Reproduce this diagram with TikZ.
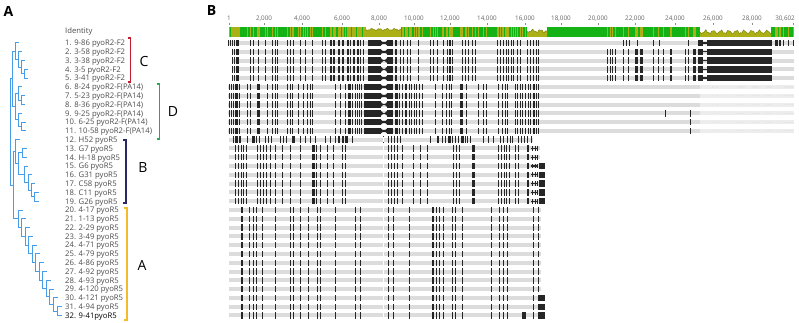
\documentclass[tikz,border=0pt]{standalone}
\usepackage{fontspec}
\setmainfont{Open Sans}
\definecolor{treeblue}{RGB}{70,158,235}
\definecolor{cred}{RGB}{190,30,45}
\definecolor{dgreen}{RGB}{40,170,80}
\definecolor{bnavy}{RGB}{40,40,100}
\definecolor{ayellow}{RGB}{245,185,45}
\definecolor{idgreen}{RGB}{20,178,20}
\definecolor{idolive}{RGB}{172,176,22}
\definecolor{idline}{RGB}{130,135,10}
\definecolor{rowgray}{RGB}{220,220,220}
\definecolor{lightrow}{RGB}{237,237,237}
\definecolor{labgray}{RGB}{75,75,75}
\def\Cmarks{232/1.2,234.2/1.2,236.2/2.4,250/1,253/1,258/1.2,265/1,272/1.2,274.5/1.2,276.5/1.5,287/1,290/1,293/1,300/1.2,305/1,312/1,322/1.2,325/1,330/1.5,333/1.5,338/1.5,342/2.2,347/2.2,350/1,353/1.5,357/2.2,360/1,363/1.2,395/1.5,400/1,403/1,407/1,410/1,418/1,430/1,433/1,437/1,443/1.2,447/1,449/1.5,451.5/1.2,462/1,465/1,468/1,472/1,475/1.2,497/1,500/1,503/1,505.5/1,508/1,510.5/1.2,513/1,517/1,520/1,527/1,529.5/1.5,532.5/1.5,535.5/1,538/1}
\def\CRtwo{607/1,609.5/1,612/1,615/1,623/1,628/1,635/2.8,640/2.8,653/1,658/1,663/1,670/1.5,685/1,688/1,693/2.5}
\def\CRone{623/1,626/1,629/1,637/1.2,653/1,659/1,688/1,775/2.6,779/2.2,783/1,788/1,793/1}
\def\Dmarks{229/1,231/1.2,233/1.2,235/2.5,238.5/1,247/1,250/1,257/3,267/1,272/1.2,274.5/1,276.5/1.5,287/1,289.5/1,292/1,298/1,303/1,307/1,309.5/1,312/1,335/1,340/1.2,345/1,348/3,352/1,354.5/1,356.5/1.2,359/1,361/1.2,363.5/1.2,365/2.5,395/2.5,399/1,402/1,405/2,408.5/1,411/1,413.5/1,416/1,419/1,422/1,435/1,442/1,446/1.2,448.5/1,451/1,460/2.5,466/1,478/1,483/1,485.5/1,498/1,502/1,505/1,507/1,515/1,517/1,519.5/1,522/1.2,525/1,527.5/1,530/1,533/1.5,536/1,538/1}
\def\Bfirst{233/1,235/2.5,238.5/2.5,247/1,252/2.5,256/1,258.5/1,265/1,268/1,271/1,280/1,283/1,286/1,292/2.5,300/1,305/1,310/1,315/1,325/1,330/1,335/1,337.5/2.5,341.5/2.5,345/2.5,352/1,383/1,388/1,391/1,394/1,397/1,400/1,430/1,437/2,442/1,445/1,448/2.5,452/1,455/1,458/1,461/2.5,464.5/1,467/1,470/1,483/1,488/1,493/1,500/1,503/1,507/1,509.5/1,512/1,518/1,521/1,524/1,527/1,531/1}
\def\Bmarks{235/1,238/1,240.5/1,243/1,245.5/1,257/1,260/1,263/1,265.5/1,270/1,275/1,282/1,290/1,300/1,312/2.5,315.5/1,320/1,327/1,333/1,342/1,345/1,388/1,391/1,394/1,397/1,402/1,413/1,420/1,427/1,453/1,456/1,459/1,472/2.5,498/1,501/1,503.5/1,506/1,509/1,515/1,518/1,527/1.5}
\def\Amarks{241/2,249/1,253/1,256/1,261.5/1,275/1.4,290/1,292.7/1,300/1,308/1,317/1,320/1,335/1,355/1,360/1,388/1,393/1,409/1,432/2,435.7/1.2,439/1,442.5/1,451.5/1,455/1,461.5/1,490.5/1,499/1,502.5/1,507/1,533/1,538/1}
\newcommand\arrowblk[1]{%
  \fill[mk] (368,#1-3.2) rectangle (381,#1+3.2);
  \fill[mk] (381,#1-0.8) rectangle (387,#1+0.8);
  \fill[mk] (381,#1-2.4) -- (383.5,#1) -- (381,#1+2.4) -- cycle;
  \fill[mk] (387,#1-2.4) -- (384.5,#1) -- (387,#1+2.4) -- cycle;
  \fill[mk] (387,#1-3.2) rectangle (393,#1+3.2);}
\newcommand\wavyzone[4]{%
  \fill[white] (#1,26.5) rectangle (#2,37);
  \fill[idolive] (#1,37) -- plot[domain=#1:#2,samples=50] (\x,{#3+#4*sin((\x-#1)*47)+0.5*#4*sin((\x-#1)*113)}) -- (#2,37) -- cycle;
  \draw[idline,line width=0.5pt] plot[domain=#1:#2,samples=50] (\x,{#3+#4*sin((\x-#1)*47)+0.5*#4*sin((\x-#1)*113)});}
\begin{document}
\begin{tikzpicture}[x=1pt,y=-1pt,
  lab/.style={font=\fontsize{7.7}{8}\selectfont,text=labgray,anchor=base west,inner sep=0pt},
  grp/.style={font=\fontsize{14}{15}\selectfont,anchor=center,inner sep=0pt},
  panel/.style={font=\bfseries\fontsize{14}{16}\selectfont,anchor=north west,inner sep=0pt},
  tlab/.style={font=\fontsize{6.3}{7}\selectfont,text=black!60,anchor=base,inner sep=0pt},
  tree/.style={draw=treeblue,line width=1pt},
  brk/.style={line width=1.3pt},
  mk/.style={fill=black!85},
  gbar/.style={fill=rowgray}]
\path[use as bounding box] (0,0) rectangle (799,323);
% panel letters
\node[panel] (pA) at (3.3,6.7) {A};
\node[panel] (pB) at (206.7,5) {B};
% header
\node[lab] (hdr) at (65,33.5) {Identity};
% labels
\foreach \i/\t in {1/{9-86 pyoR2-F2},2/{3-58 pyoR2-F2},3/{3-38 pyoR2-F2},4/{3-5 pyoR2-F2},5/{3-41 pyoR2-F2},6/{8-24 pyoR2-F(PA14)},7/{5-23 pyoR2-F(PA14)},8/{8-36 pyoR2-F(PA14)},9/{9-25 pyoR2-F(PA14)},10/{6-25 pyoR2-F(PA14)},11/{10-58 pyoR2-F(PA14)},12/{H52 pyoR5},13/{G7 pyoR5},14/{H-18 pyoR5},15/{G6 pyoR5},16/{G31 pyoR5},17/{C58 pyoR5},18/{C11 pyoR5},19/{G26 pyoR5},20/{4-17 pyoR5},21/{1-13 pyoR5},22/{2-29 pyoR5},23/{3-49 pyoR5},24/{4-71 pyoR5},25/{4-79 pyoR5},26/{4-86 pyoR5},27/{4-92 pyoR5},28/{4-93 pyoR5},29/{4-120 pyoR5},30/{4-121 pyoR5},31/{4-94 pyoR5}}
  {\pgfmathsetmacro\yy{43+(\i-1)*8.79+2.8}
   \node[lab] (n\i) at (65,\yy) {\i. \t};}
\node[lab,text=black] (n32) at (65,318.3) {32. 9-41pyoR5};
% brackets and group letters
\draw[cred,brk] (127.5,38) -- (130.5,38) -- (130.5,82) -- (127.5,82);
\draw[dgreen,brk] (156.5,84) -- (159.5,84) -- (159.5,139) -- (156.5,139);
\draw[bnavy,brk] (123,140) -- (126,140) -- (126,203) -- (123,203);
\draw[ayellow,brk] (124,208) -- (127,208) -- (127,320) -- (124,320);
\node[grp] (gC) at (144,62) {C};
\node[grp] (gD) at (173,112) {D};
\node[grp] (gB) at (143,168) {B};
\node[grp] (gA) at (142,265) {A};
% tree coordinates
\coordinate (R) at (10.5,132.1);
\coordinate (CD) at (12.5,78.98);
\coordinate (BA) at (13,185.22);
\coordinate (c1) at (15,51.24);
\coordinate (c2) at (18,59.48);
\coordinate (c3) at (21,67.17);
\coordinate (c4) at (24,73.77);
\coordinate (d) at (15,106.73);
\coordinate (d1) at (18,93.54);
\coordinate (d11) at (21,100.14);
\coordinate (d2) at (18,119.91);
\coordinate (d21) at (21.5,126.5);
\coordinate (b) at (15.5,151.64);
\coordinate (b1) at (18.5,163.59);
\coordinate (b2) at (22,152.88);
\coordinate (b3) at (24,174.3);
\coordinate (b4) at (28,182.54);
\coordinate (b5) at (31.5,190.23);
\coordinate (b6) at (34,196.83);
\foreach \k/\ax/\ay in {1/18/218.8,2/21.55/227.59,3/25.1/236.37,4/28.65/245.15,5/32.2/253.93,6/35.75/262.68,7/39.3/271.4,8/42.85/280.06,9/46.4/288.57,10/49.95/296.81,11/53.5/304.5,12/57.05/311.1}
  {\coordinate (a\k) at (\ax,\ay);}
\foreach \i/\lx in {1/19,2/22,3/25,4/28,5/28,6/22,7/25,8/25,9/22,10/25.5,11/25.5,12/19.5,13/27,14/27,15/28,16/32,17/35,18/38.5,19/38.5,20/22.5,21/26.05,22/29.6,23/33.15,24/36.7,25/40.25,26/43.8,27/47.35,28/50.9,29/54.45,30/58,31/61.5,32/61.5}
  {\pgfmathsetmacro\yy{43+(\i-1)*8.79}
   \coordinate (t\i) at (\lx,\yy);}
% tree edges
\foreach \p/\q in {R/CD,R/BA,CD/c1,CD/d,c1/t1,c1/c2,c2/t2,c2/c3,c3/t3,c3/c4,c4/t4,c4/t5,d/d1,d/d2,d1/t6,d1/d11,d11/t7,d11/t8,d2/t9,d2/d21,d21/t10,d21/t11,BA/b,BA/a1,b/t12,b/b1,b1/b2,b1/b3,b2/t13,b2/t14,b3/t15,b3/b4,b4/t16,b4/b5,b5/t17,b5/b6,b6/t18,b6/t19,a1/t20,a1/a2,a2/t21,a2/a3,a3/t22,a3/a4,a4/t23,a4/a5,a5/t24,a5/a6,a6/t25,a6/a7,a7/t26,a7/a8,a8/t27,a8/a9,a9/t28,a9/a10,a10/t29,a10/a11,a11/t30,a11/a12,a12/t31,a12/t32}
  {\draw[tree] (\p) |- (\q);}
% ruler
\foreach \tx/\tt in {229/1,264/{2,000},302/{4,000},342/{6,000},379/{8,000},414/{10,000},450/{12,000},487/{14,000},525/{16,000},561/{18,000},598/{20,000},635/{22,000},675/{24,000},713/{26,000},752/{28,000}}
  {\node[tlab] (r\tx) at (\tx,21) {\tt};
   \draw[black!45,line width=0.5pt] (\tx,22.8) -- (\tx,25);}
\node[tlab,anchor=base east] (rend) at (795,21) {30,602};
\draw[black!45,line width=0.5pt] (793.5,22.8) -- (793.5,25);
% identity bar
\fill[idgreen] (229,27) rectangle (794,37);
\foreach \a/\w in \Cmarks {\fill[idolive] (\a,27) rectangle ++(\w,10);}
\foreach \a/\w in \Dmarks {\fill[idolive] (\a,27) rectangle ++(\w,10);}
\foreach \a/\w in \CRtwo {\fill[idolive] (\a,27) rectangle ++(\w,10);}
\foreach \a/\w in {775/2.6,779/2.2,783/1,788/1,793/1} {\fill[idolive] (\a,27) rectangle ++(\w,10);}
\wavyzone{366}{401}{29.5}{0.8}
\wavyzone{527}{547}{31}{1.2}
\wavyzone{700}{771}{32}{1.6}
% group C rows
\foreach \r in {1,...,5}{
  \pgfmathsetmacro\yy{43+(\r-1)*8.79}
  \ifnum\r=1 \def\xs{228}\else\def\xs{232}\fi
  \fill[gbar] (\xs,\yy-2) rectangle (794,\yy+2);
  \foreach \a/\w in \Cmarks {\fill[mk] (\a,\yy-3.2) rectangle ++(\w,6.4);}
  \arrowblk{\yy}
  \fill[mk] (698,\yy-3.2) rectangle (703,\yy+3.2);
  \fill[mk] (703,\yy-0.7) rectangle (707,\yy+0.7);
  \fill[mk] (707,\yy-3.2) rectangle (772,\yy+3.2);
  \ifnum\r=1
    \foreach \a/\w in \CRone {\fill[mk] (\a,\yy-3.2) rectangle ++(\w,6.4);}
    \fill[mk] (228,\yy-3.2) rectangle ++(1.2,6.4);
    \fill[mk] (230,\yy-3.2) rectangle ++(1.2,6.4);
  \else
    \foreach \a/\w in \CRtwo {\fill[mk] (\a,\yy-3.2) rectangle ++(\w,6.4);}
  \fi
}
% group D rows
\foreach \r in {6,...,11}{
  \pgfmathsetmacro\yy{43+(\r-1)*8.79}
  \fill[gbar] (228,\yy-2) rectangle (700,\yy+2);
  \fill[lightrow] (700,\yy-2) rectangle (794,\yy+2);
  \foreach \a/\w in {701/1,712/1.5,716/1.5,722/1,737/8,752/7,766/6,777/1,780/1,784/10} {\fill[rowgray!70] (\a,\yy-0.6) rectangle ++(\w,1.2);}
  \foreach \a/\w in \Dmarks {\fill[mk] (\a,\yy-3.2) rectangle ++(\w,6.4);}
  \arrowblk{\yy}
  \ifnum\r>8 \fill[mk] (690,\yy-3.2) rectangle ++(1.2,6.4);\fi
  \ifnum\r=9 \fill[mk] (665,\yy-3.2) rectangle ++(1.2,6.4);\fi
}
% group B rows
\pgfmathsetmacro\yy{43+11*8.79}
\fill[gbar] (229,\yy-2) rectangle (533,\yy+2);
\foreach \a/\w in \Bfirst {\fill[mk] (\a,\yy-3.2) rectangle ++(\w,6.4);}
\foreach \r in {13,...,19}{
  \pgfmathsetmacro\yy{43+(\r-1)*8.79}
  \fill[gbar] (229,\yy-2) rectangle (540,\yy+2);
  \foreach \a/\w in \Bmarks {\fill[mk] (\a,\yy-3.2) rectangle ++(\w,6.4);}
  \fill[mk] (531,\yy-0.6) rectangle (538,\yy+0.6);
  \foreach \a in {532,534.5,536.5} {\fill[mk] (\a,\yy-2.4) rectangle ++(1,4.8);}
  \ifnum\r>14 \fill[mk] (538.5,\yy-3.2) rectangle (545,\yy+3.2);\fi
}
% group A rows
\foreach \r in {20,...,32}{
  \pgfmathsetmacro\yy{43+(\r-1)*8.79}
  \fill[gbar] (229,\yy-2) rectangle (541,\yy+2);
  \foreach \a/\w in \Amarks {\fill[mk] (\a,\yy-3.2) rectangle ++(\w,6.4);}
  \ifnum\r>29 \fill[mk] (538.5,\yy-3.2) rectangle (545,\yy+3.2);\fi
  \ifnum\r=32 \fill[mk] (522,\yy-3.2) rectangle (525.5,\yy+3.2);\fi
}
% thin gap
\foreach \r in {12,...,32}{
  \pgfmathsetmacro\yy{43+(\r-1)*8.79}
  \fill[white] (382.6,\yy-2.2) rectangle (383.4,\yy+2.2);
}
\end{tikzpicture}
\end{document}
